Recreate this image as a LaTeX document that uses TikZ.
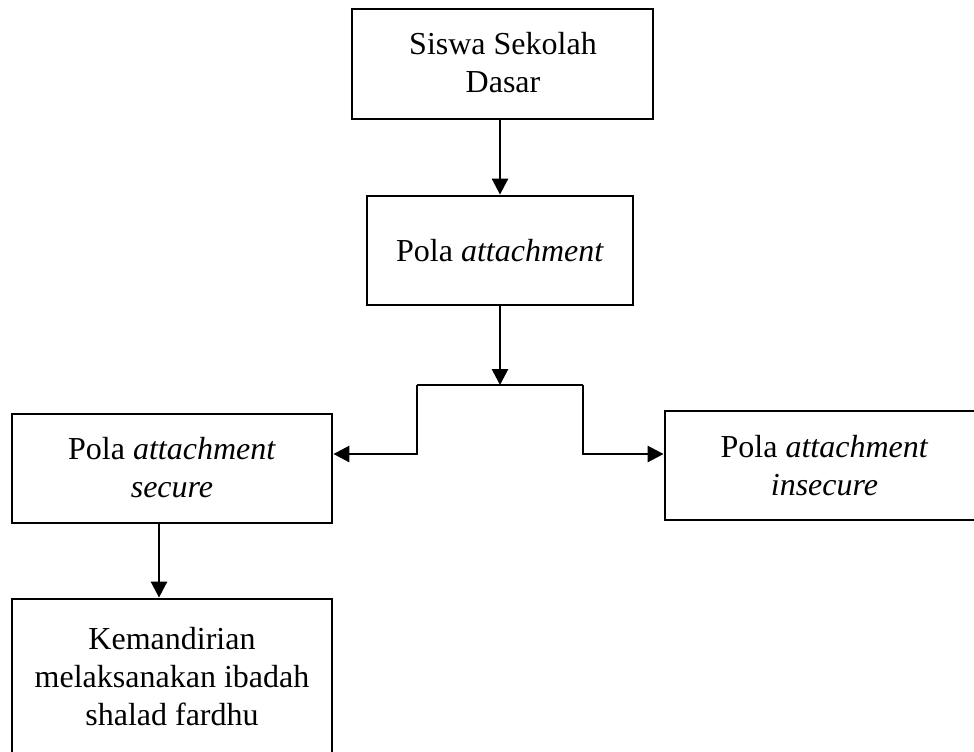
\documentclass[tikz,border=0pt]{standalone}
\usepackage{fontspec}
\setmainfont{Liberation Serif}
\usetikzlibrary{arrows.meta,fit}
\begin{document}
\begin{tikzpicture}[x=0.75pt,y=-0.75pt,
  box/.style={draw=black,line width=2.1pt,inner sep=0pt,rectangle},
  txt/.style={align=center,font=\fontsize{24pt}{28.5pt}\selectfont,inner sep=0pt},
  arr/.style={line width=2pt,-{Triangle[length=12pt,width=12pt]}},
  ln/.style={line width=2pt}]
\useasboundingbox (0,0) rectangle (974,751);
\fill[white] (0,0) rectangle (974,751);
\clip (0,0) rectangle (974,751);
% boxes
\node[box,fit={(352,9)(653,119)}] (b1) {};
\node[box,fit={(367,196)(633,305)}] (b2) {};
\node[box,fit={(12,414)(332,523)}] (b3) {};
\node[box,fit={(665,411)(984,520)}] (b4) {};
\node[box,fit={(12,599)(332,760)}] (b5) {};
% texts
\node[txt] (t1) at (503,63) {Siswa Sekolah\\Dasar};
\node[txt] (t2) at (500,251) {Pola \textit{attachment}};
\node[txt] (t3) at (172,468) {Pola \textit{attachment}\\\textit{secure}};
\node[txt] (t4) at (824.5,465.5) {Pola \textit{attachment}\\\textit{insecure}};
\node[txt] (t5) at (172,676.5) {Kemandirian\\melaksanakan ibadah\\shalad fardhu};
% junction coordinates
\coordinate (m) at (500,0);
\coordinate (j) at (500,385);
\coordinate (jl) at (417,385);
\coordinate (jr) at (583,385);
\coordinate (kl) at (417,454);
\coordinate (kr) at (583,454);
\coordinate (s) at (159,0);
% connectors
\draw[arr] (b1.south -| m) -- (b2.north -| m);
\draw[arr] (b2.south -| m) -- (j);
\draw[ln] (jl) -- (jr);
\draw[arr] (jl) -- (kl) -- (kl -| b3.east);
\draw[arr] (jr) -- (kr) -- (kr -| b4.west);
\draw[arr] (b3.south -| s) -- (b5.north -| s);
\end{tikzpicture}
\end{document}
